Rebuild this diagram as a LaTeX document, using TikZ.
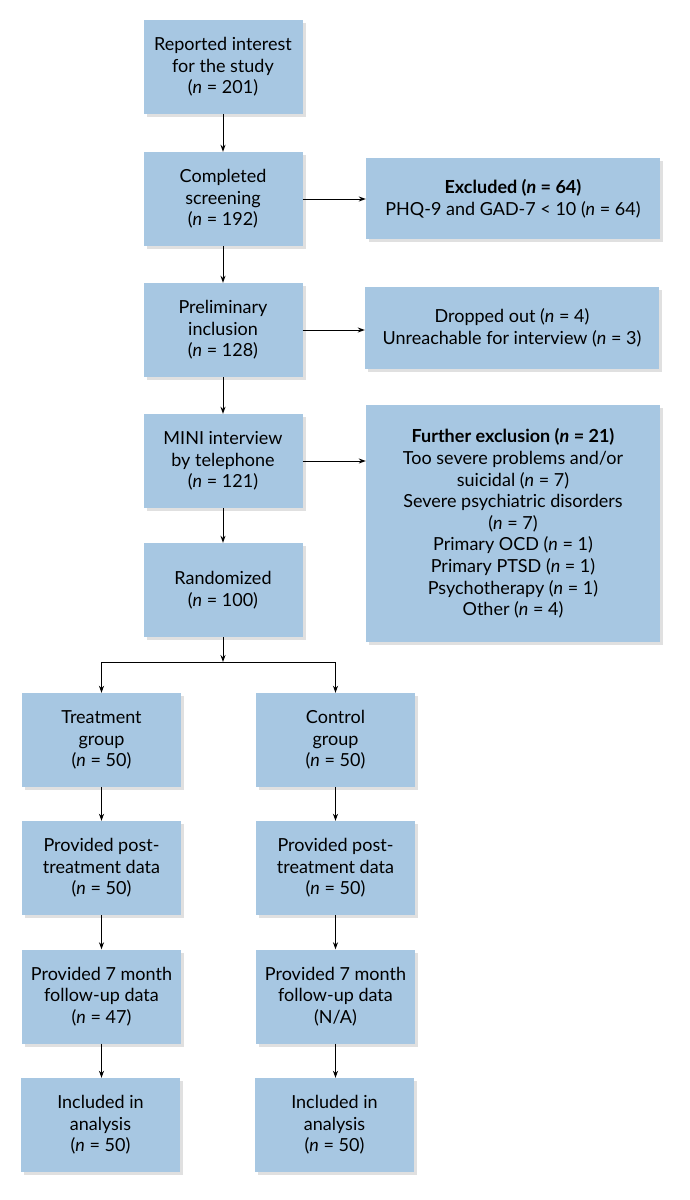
\documentclass[tikz,border=0pt]{standalone}
\usepackage{fontspec}
\setmainfont{Lato}
\usetikzlibrary{shadows,arrows.meta}
\definecolor{boxblue}{RGB}{167,199,226}
\begin{document}
\begin{tikzpicture}[x=1pt,y=-1pt,
  box/.style={rectangle, fill=boxblue, align=center, inner sep=2pt,
    font=\fontsize{18}{21.6}\selectfont,
    drop shadow={shadow xshift=3pt,shadow yshift=-3pt,opacity=0.12,fill=black},
    minimum width=159pt, minimum height=94pt},
  wbox/.style={box, minimum width=294pt},
  arr/.style={-{Stealth[length=7pt,width=5pt]}, line width=1pt, black}]
\useasboundingbox (0,0) rectangle (689,1200);
% main chain
\node[box] (r1) at (223,67) {Reported interest\\for the study\\(\emph{n} = 201)};
\node[box] (r2) at (223,199) {Completed\\screening\\(\emph{n} = 192)};
\node[box] (r3) at (223,330) {Preliminary\\inclusion\\(\emph{n} = 128)};
\node[box] (r4) at (223,461) {MINI interview\\by telephone\\(\emph{n} = 121)};
\node[box] (r5) at (223,590) {Randomized\\(\emph{n} = 100)};
% side boxes
\node[wbox, minimum height=81pt] (e1) at (513,198.5) {\textbf{Excluded (\emph{n} = 64)}\\PHQ-9 and GAD-7 < 10 (\emph{n} = 64)};
\node[wbox, minimum height=82pt] (e2) at (512,328) {Dropped out (\emph{n} = 4)\\Unreachable for interview (\emph{n} = 3)};
\node[wbox, minimum height=237pt] (e3) at (513,523.5) {\textbf{Further exclusion (\emph{n} = 21)}\\Too severe problems and/or\\suicidal (\emph{n} = 7)\\Severe psychiatric disorders\\(\emph{n} = 7)\\Primary OCD (\emph{n} = 1)\\Primary PTSD (\emph{n} = 1)\\Psychotherapy (\emph{n} = 1)\\Other (\emph{n} = 4)};
% two arms
\node[box] (t1) at (101.5,740) {Treatment\\group\\(\emph{n} = 50)};
\node[box] (c1) at (335.5,740) {Control\\group\\(\emph{n} = 50)};
\node[box] (t2) at (101.5,868) {Provided post-\\treatment data\\(\emph{n} = 50)};
\node[box] (c2) at (335.5,868) {Provided post-\\treatment data\\(\emph{n} = 50)};
\node[box] (t3) at (101.5,996.5) {Provided 7 month\\follow-up data\\(\emph{n} = 47)};
\node[box] (c3) at (335.5,996.5) {Provided 7 month\\follow-up data\\(N/A)};
\node[box] (t4) at (100.5,1125) {Included in\\analysis\\(\emph{n} = 50)};
\node[box] (c4) at (334.5,1125) {Included in\\analysis\\(\emph{n} = 50)};
\coordinate (split) at (223,662);
% connectors
\draw[arr] (r1.south) -- (r2.north);
\draw[arr] (r2.south) -- (r3.north);
\draw[arr] (r3.south) -- (r4.north);
\draw[arr] (r4.south) -- (r5.north);
\draw[arr] (r2.east) -- (r2.east -| e1.west);
\draw[arr] (r3.east) -- (r3.east -| e2.west);
\draw[arr] (r4.east) -- (r4.east -| e3.west);
\draw[arr] (r5.south) -- (split);
\draw[arr] (split) -| (t1.north);
\draw[arr] (split) -| (c1.north);
\draw[arr] (t1.south) -- (t2.north);
\draw[arr] (t2.south) -- (t3.north);
\draw[arr] (t3.south) -- (t3.south |- t4.north);
\draw[arr] (c1.south) -- (c2.north);
\draw[arr] (c2.south) -- (c3.north);
\draw[arr] (c3.south) -- (c3.south |- c4.north);
\end{tikzpicture}
\end{document}
